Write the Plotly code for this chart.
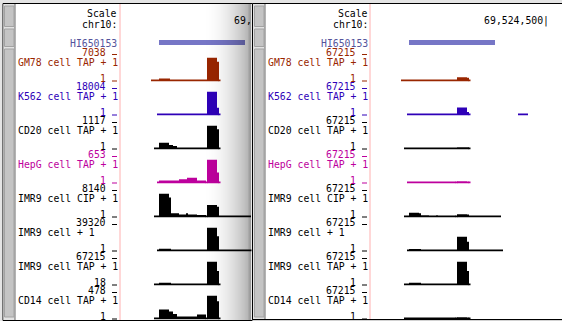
import plotly.graph_objects as go

W, H = 562, 321

# ---------------- data ----------------
track_names = ["GM78 cell TAP + 1", "K562 cell TAP + 1", "CD20 cell TAP + 1", "HepG cell TAP + 1",
               "IMR9 cell CIP + 1", "IMR9 cell + 1", "IMR9 cell TAP + 1", "CD14 cell TAP + 1"]
track_colors = ["rgb(153,38,0)", "rgb(46,0,184)", "black", "rgb(189,0,157)",
                "black", "black", "black", "black"]
left_max = [7038, 18004, 1117, 653, 8140, 39320, 67215, 478]
left_min = [1, 1, 1, 1, 1, 1, 18, 1]
right_max = [67215, 67215, 67215, 67215, 67215, 67215, 67215, 67215]
right_min = [1, 1, 1, 1, 1, 1, 1, 1]

gm78_pos = [69523760, 69523800, 69523855, 69524040, 69524090, 69524100, 69524105]
gm78_val = [1, 300, 1, 7038, 5660, 1, 1]
k562_pos = [69523790, 69524040, 69524090, 69524100, 69524105, None, 69524345, 69524395]
k562_val = [1, 18004, 4700, 1, 1, None, 1, 1]
cd20_pos = [69523775, 69523800, 69523850, 69523870, 69523890, 69524040, 69524090, 69524100, 69524105]
cd20_val = [1, 243, 131, 83, 1, 1117, 923, 1, 1]
hepg_pos = [69523790, 69523800, 69523900, 69523940, 69523990, 69524035, 69524040, 69524090, 69524100, 69524105]
hepg_val = [1, 30, 66, 114, 29, 1, 653, 265, 1, 1]
imr9cip_pos = [69523775, 69523800, 69523850, 69523860, 69523900, 69523935, 69523945, 69523990,
               69524035, 69524040, 69524090, 69524100, 69524260]
imr9cip_val = [1, 8140, 6620, 800, 350, 800, 350, 200, 1, 3900, 3200, 1, 1]
imr9_pos = [69523790, 69523800, 69523860, 69524040, 69524090, 69524100, 69524270]
imr9_val = [1, 1200, 1, 39320, 23900, 1, 1]
imr9tap_pos = [69523775, 69523800, 69523860, 69524040, 69524090, 69524100, 69524105]
imr9tap_val = [18, 2000, 18, 67215, 38000, 18, 18]
cd14_pos = [69523775, 69523800, 69523850, 69523870, 69523890, 69523990, 69524035, 69524040,
            69524090, 69524100, 69524105]
cd14_val = [1, 175, 130, 75, 25, 65, 1, 478, 355, 1, 1]

track_pos = [gm78_pos, k562_pos, cd20_pos, hepg_pos, imr9cip_pos, imr9_pos, imr9tap_pos, cd14_pos]
track_val = [gm78_val, k562_val, cd20_val, hepg_val, imr9cip_val, imr9_val, imr9tap_val, cd14_val]

gene_name = "HI650153"
gene_start = 69523800
gene_end = 69524230
ruler_tick = 69524500
ruler_label = "69,524,500|"
chrom_label = "chr10:"

# ---------------- layout helpers ----------------
FONT = "DejaVu Sans Mono"
FS = 9.8
BP0, BPPX = 69523800, 5          # bp at gene-start pixel, bp per pixel
panels = [
    dict(x0=3, x1=252.5, btn0=4.5, lab_l=16.5, lab_r=118.5, pink=120, data0=120.5, data1=251.5,
         gene_px=159, vmax=left_max, vmin=left_min, bottom=320.5),
    dict(x0=252.5, x1=563, btn0=254.5, lab_l=266.5, lab_r=368.5, pink=370, data0=370.5, data1=562,
         gene_px=409, vmax=right_max, vmin=right_min, bottom=319.5),
]

def fx(p):
    return p / W

def fy(p):
    return 1 - p / H

fig = go.Figure()
layout_axes = {}
shapes = []
annotations = []
ax_n = [0]

def add_axes(xdom_px, ydom_px, xr, yr):
    ax_n[0] += 1
    k = ax_n[0]
    sx = "" if k == 1 else str(k)
    layout_axes["xaxis" + sx] = dict(domain=[fx(xdom_px[0]), fx(xdom_px[1])], range=xr, visible=False,
                                     fixedrange=True, anchor="y" + sx)
    layout_axes["yaxis" + sx] = dict(domain=[fy(ydom_px[1]), fy(ydom_px[0])], range=yr, visible=False,
                                     fixedrange=True, anchor="x" + sx)
    return "x" + sx, "y" + sx

def ann(text, x, yc, color="black", anchor="right"):
    annotations.append(dict(text=text, x=fx(x), y=fy(yc + 1.2), xref="paper", yref="paper",
                            xanchor=anchor, yanchor="middle", showarrow=False, borderpad=0,
                            font=dict(family=FONT, size=FS, color=color)))

def rect(x0, y0, x1, y1, fill, line=None, lw=0, layer="below"):
    shapes.append(dict(type="rect", xref="paper", yref="paper", x0=fx(x0), x1=fx(x1), y0=fy(y1), y1=fy(y0),
                       fillcolor=fill, line=dict(color=line or fill, width=lw), layer=layer))

def vline(x, y0, y1, color, w=1):
    shapes.append(dict(type="line", xref="paper", yref="paper", x0=fx(x), x1=fx(x), y0=fy(y1), y1=fy(y0),
                       line=dict(color=color, width=w), layer="below"))

def hline(x0, x1, y, color, w=1, layer="below"):
    shapes.append(dict(type="line", xref="paper", yref="paper", x0=fx(x0), x1=fx(x1), y0=fy(y), y1=fy(y),
                       line=dict(color=color, width=w), layer=layer))

for pi, P in enumerate(panels):
    # window frame
    rect(P["x0"], 3.5, P["x1"], P["bottom"], "white", "black", 1)
    rect(P["x0"] + 0.5, 4, P["btn0"] + 10.5, P["bottom"] - 0.5, "#e2e2e2")
    vline(P["btn0"] + 10.5, 4, P["bottom"] - 0.5, "#6a6a6a")
    for (b0, b1) in [(6, 26.5), (29, 46.5), (49, 317)]:
        rect(P["btn0"], b0, P["btn0"] + 9.5, b1, "#c4c4c4", "#a2a2a2", 1)
    vline(P["pink"], 4, P["bottom"] - 0.5, "#ffb0b0")

    xr = [BP0 + (P["data0"] - P["gene_px"]) * BPPX, BP0 + (P["data1"] - P["gene_px"]) * BPPX]

    # ruler
    xa, ya = add_axes((P["data0"], P["data1"]), (15, 28), xr, [-1, 1])
    fig.add_trace(go.Scatter(x=[ruler_tick], y=[0], mode="text", text=[ruler_label],
                             textposition="middle left", cliponaxis=True,
                             textfont=dict(family=FONT, size=FS, color="black"),
                             xaxis=xa, yaxis=ya, hoverinfo="skip"))
    # gene
    xa, ya = add_axes((P["data0"], P["data1"]), (40, 45), xr, [-0.5, 0.5])
    fig.add_trace(go.Bar(y=[0], x=[gene_end - gene_start], base=[gene_start], orientation="h", width=1,
                         marker=dict(color="#7676c6", line=dict(width=0)), xaxis=xa, yaxis=ya,
                         hoverinfo="skip"))
    ann("Scale", P["lab_r"], 12.5)
    ann(chrom_label, P["lab_r"], 23)
    ann(gene_name, P["lab_r"], 42.5, "#54549c")

    tick_x0, tick_x1 = P["lab_r"] - 6.5, P["lab_r"] - 1.5
    # signal tracks
    for i in range(8):
        b = 80.5 + 34 * i
        vmax, vmin = P["vmax"][i], P["vmin"][i]
        ppu = 22.0 / (vmax - vmin)
        lower = vmin - 2.0 / ppu
        xa, ya = add_axes((P["data0"], P["data1"]), (b - 23, b + 1), xr, [lower, vmax])
        pos, val = track_pos[i], track_val[i]
        xs, ws, ys = [], [], []
        for j in range(len(pos) - 1):
            if pos[j] is None or pos[j + 1] is None:
                continue
            xs.append((pos[j] + pos[j + 1]) / 2)
            ws.append(pos[j + 1] - pos[j])
            ys.append(val[j] - lower)
        fig.add_trace(go.Bar(x=xs, y=ys, base=lower, width=ws,
                             marker=dict(color=track_colors[i], line=dict(width=0)),
                             xaxis=xa, yaxis=ya, hoverinfo="skip"))
        c = track_colors[i]
        ann(str(vmax), P["lab_r"] - 11.8, b - 29.5, c)
        hline(tick_x0, tick_x1, b - 26, c)
        ann(track_names[i], P["lab_l"], b - 19, c, anchor="left")
        ann(str(vmin), P["lab_r"] - 11.8, b - 3.2, c)
        hline(tick_x0, tick_x1, b + 0.5, c)

# shadow gradient over the right edge of the back window
g0, g1 = 203, 251
n = int(g1 - g0)
for s in range(n):
    a = 0.32 * ((s + 1) / n) ** 2
    rect(g0 + s, 4, g0 + s + 1, 320, f"rgba(0,0,0,{a:.3f})", layer="above")
rect(248.5, 4, 252, 320, "rgba(0,0,0,0.10)", layer="above")
# strip below the front window
rect(252.5, 320, 562, 321, "#d2d2d2")

fig.update_layout(width=W, height=H, margin=dict(l=0, r=0, t=0, b=0, pad=0),
                  paper_bgcolor="#e4e4e4", plot_bgcolor="rgba(0,0,0,0)", showlegend=False,
                  barmode="overlay", shapes=shapes, annotations=annotations, **layout_axes)
fig.write_html("out.html")
